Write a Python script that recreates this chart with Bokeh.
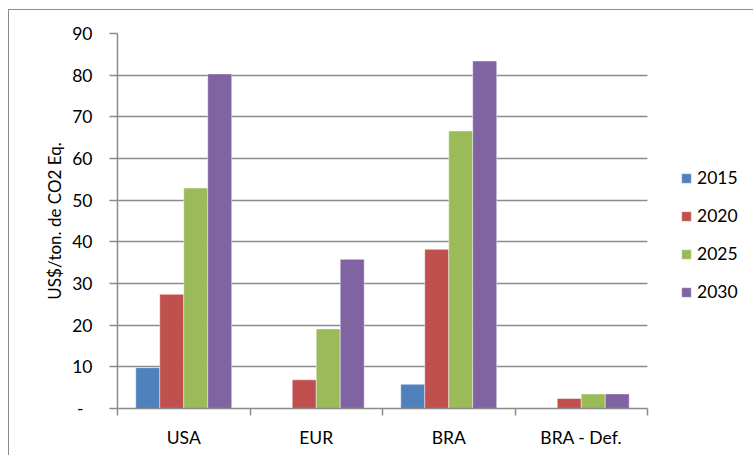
import numpy as np
from bokeh.plotting import figure
from bokeh.models import Range1d, FixedTicker, Legend, LegendItem, Title
from bokeh.embed import file_html
from bokeh.resources import INLINE

# Carbon price by region and year (US$ per ton of CO2 equivalent)
categories = ["USA", "EUR", "BRA", "BRA - Def."]
years = ["2015", "2020", "2025", "2030"]
v2015 = [9.8, 0.0, 5.8, 0.0]
v2020 = [27.4, 6.9, 38.2, 2.4]
v2025 = [52.9, 19.1, 66.6, 3.5]
v2030 = [80.3, 35.8, 83.4, 3.5]
series = [v2015, v2020, v2025, v2030]
colors = ["#4F81BD", "#C0504D", "#9BBB59", "#8064A2"]
y_ticks = [0, 10, 20, 30, 40, 50, 60, 70, 80, 90]
y_title = "US$/ton. de CO2 Eq."

FONT = "Lato"
GRID = "#8c8c8c"

n = len(categories)
centers = np.arange(n) + 0.5
bar_w = 0.181
offsets = (np.arange(len(years)) - 1.5) * bar_w

# the plotting frame runs on past the last category to leave room for the legend
CAT_PX = 132.5
FRAME_W = 637
x_end = FRAME_W / CAT_PX

p = figure(
    width=745, height=446,
    x_range=Range1d(0, x_end), y_range=Range1d(0, 90),
    output_backend="svg", toolbar_location=None,
    min_border_left=108, min_border_right=0,
    min_border_top=23, min_border_bottom=48,
    background_fill_color="white", border_fill_color="white",
)
p.outline_line_color = None
p.styles = {
    "margin-left": "8px", "margin-top": "9px",
    "border-left": "1px solid #8c8c8c", "border-top": "1px solid #8c8c8c",
}

renderers = []
for vals, off, col in zip(series, offsets, colors):
    r = p.vbar(x=centers + off, top=vals, bottom=0, width=bar_w,
               fill_color=col, line_color="white", line_alpha=0.55, line_width=0.8)
    renderers.append(r)

# x axis: labels at category centres, separator ticks at category edges
xa = p.xaxis[0]
xa.bounds = (0, n)
xa.ticker = FixedTicker(ticks=list(centers), minor_ticks=list(range(n + 1)))
xa.major_label_overrides = {float(c): name for c, name in zip(centers, categories)}
xa.major_tick_out = 0
xa.major_tick_in = 0
xa.minor_tick_out = 7
xa.minor_tick_in = 0
xa.minor_tick_line_color = GRID
xa.minor_tick_line_width = 1.5
xa.axis_line_color = GRID
xa.axis_line_width = 1.5
xa.major_label_text_font = FONT
xa.major_label_text_font_size = "17.5px"
xa.major_label_text_color = "black"
xa.major_label_standoff = 11

ya = p.yaxis[0]
ya.ticker = FixedTicker(ticks=y_ticks)
ya.major_label_overrides = {0: "-\u00a0\u00a0"}
ya.major_tick_out = 8
ya.major_tick_in = 0
ya.major_tick_line_color = GRID
ya.major_tick_line_width = 1.5
ya.minor_tick_out = 0
ya.minor_tick_in = 0
ya.axis_line_color = GRID
ya.axis_line_width = 1.5
ya.major_label_text_font = FONT
ya.major_label_text_font_size = "17.5px"
ya.major_label_text_color = "black"
ya.major_label_standoff = 17

p.add_layout(Title(text=y_title, align="center", text_font=FONT,
                   text_font_size="17px", text_font_style="normal",
                   text_color="black", offset=0, standoff=10), "left")

p.xgrid.visible = False
p.ygrid.ticker = FixedTicker(ticks=y_ticks)
p.ygrid.cross_bounds = (0, n)
p.ygrid.grid_line_color = GRID
p.ygrid.grid_line_width = 1.5

legend = Legend(
    items=[LegendItem(label=y, renderers=[r]) for y, r in zip(years, renderers)],
    location=(563, 106),
    border_line_color=None, background_fill_alpha=0,
    padding=0, margin=0, spacing=17,
    glyph_width=12, glyph_height=12, label_standoff=5, label_height=20,
    label_text_font=FONT, label_text_font_size="17.5px", label_text_color="black",
)
p.add_layout(legend)

open("out.html", "w").write(file_html(p, INLINE))
